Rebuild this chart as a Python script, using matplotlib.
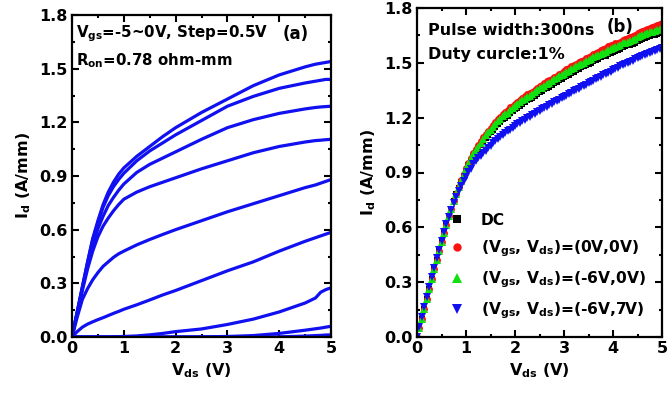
"""
Output characteristics (a) and pulsed I-V (b) of the HEMT.
"""

import matplotlib
matplotlib.use("Agg")
import matplotlib.pyplot as plt
import numpy as np
from matplotlib.ticker import MultipleLocator

plt.rcParams["font.family"] = ["DejaVu Sans"]
plt.rcParams["font.weight"] = "bold"
plt.rcParams["mathtext.fontset"] = "custom"
plt.rcParams["mathtext.rm"] = "DejaVu Sans:bold"
plt.rcParams["mathtext.it"] = "DejaVu Sans:bold"
plt.rcParams["mathtext.bf"] = "DejaVu Sans:bold"
plt.rcParams["mathtext.default"] = "rm"

FS = 11.5

# --- (a) DC output curves, Vgs = 0 ... -5 V, step 0.5 V ---
VDS_A = [0, 0.1, 0.2, 0.3, 0.4, 0.5, 0.6, 0.7, 0.8, 0.9, 1.0, 1.25, 1.5, 1.75,
         2.0, 2.5, 3.0, 3.5, 4.0, 4.5, 4.7, 4.8, 4.9, 5.0]
ID_VGS_0 = [0, 0.14, 0.28, 0.42, 0.55, 0.65, 0.74, 0.81, 0.865, 0.91, 0.945, 1.01, 1.065, 1.12,
            1.17, 1.255, 1.33, 1.405, 1.465, 1.51, 1.525, 1.53, 1.535, 1.54]
ID_VGS_05 = [0, 0.14, 0.28, 0.415, 0.545, 0.64, 0.725, 0.79, 0.84, 0.88, 0.915, 0.985, 1.04, 1.085,
             1.13, 1.21, 1.29, 1.345, 1.39, 1.42, 1.43, 1.435, 1.44, 1.44]
ID_VGS_1 = [0, 0.135, 0.27, 0.40, 0.515, 0.605, 0.675, 0.735, 0.78, 0.82, 0.855, 0.92, 0.965, 1.0,
            1.035, 1.105, 1.17, 1.215, 1.25, 1.275, 1.283, 1.286, 1.288, 1.29]
ID_VGS_15 = [0, 0.13, 0.26, 0.38, 0.48, 0.56, 0.62, 0.665, 0.705, 0.74, 0.77, 0.81, 0.84, 0.865,
             0.89, 0.94, 0.985, 1.03, 1.065, 1.09, 1.098, 1.10, 1.103, 1.105]
ID_VGS_2 = [0, 0.11, 0.21, 0.27, 0.32, 0.36, 0.395, 0.42, 0.445, 0.465, 0.48, 0.515, 0.545, 0.573,
            0.60, 0.65, 0.70, 0.745, 0.79, 0.835, 0.85, 0.86, 0.87, 0.88]
ID_VGS_25 = [0, 0.03, 0.055, 0.072, 0.085, 0.097, 0.108, 0.12, 0.132, 0.143, 0.155, 0.18, 0.207, 0.235,
             0.26, 0.315, 0.37, 0.42, 0.48, 0.535, 0.555, 0.565, 0.575, 0.585]
ID_VGS_3 = [0, 0, 0, 0, 0, 0, 0, 0, 0.001, 0.002, 0.003, 0.006, 0.012, 0.02,
            0.03, 0.045, 0.07, 0.10, 0.14, 0.19, 0.218, 0.25, 0.265, 0.275]
ID_VGS_35 = [0, 0, 0, 0, 0, 0, 0, 0, 0, 0, 0, 0, 0, 0,
             0, 0.001, 0.003, 0.008, 0.02, 0.038, 0.046, 0.05, 0.055, 0.06]
ID_VGS_4 = [0, 0, 0, 0, 0, 0, 0, 0, 0, 0, 0, 0, 0, 0,
            0, 0, 0, 0, 0.001, 0.005, 0.008, 0.009, 0.011, 0.012]
ID_VGS_45 = [0] * 24
ID_VGS_5 = [0] * 24
CURVES_A = [ID_VGS_0, ID_VGS_05, ID_VGS_1, ID_VGS_15, ID_VGS_2, ID_VGS_25,
            ID_VGS_3, ID_VGS_35, ID_VGS_4, ID_VGS_45, ID_VGS_5]

# --- (b) pulsed I-V at Vgs = 0 V, swept in 0.05 V steps ---
VDS_B = np.round(np.arange(0, 5.001, 0.05), 2)
ID_DC = [0.000, 0.050, 0.100, 0.155, 0.210, 0.265, 0.320, 0.370, 0.420, 0.470,
         0.520, 0.570, 0.615, 0.660, 0.700, 0.745, 0.780, 0.815, 0.850, 0.880,
         0.910, 0.940, 0.965, 0.990, 1.010, 1.030, 1.050, 1.070, 1.090, 1.105,
         1.120, 1.135, 1.150, 1.165, 1.175, 1.190, 1.200, 1.210, 1.225, 1.235,
         1.245, 1.255, 1.265, 1.275, 1.285, 1.295, 1.300, 1.310, 1.320, 1.330,
         1.340, 1.345, 1.355, 1.365, 1.370, 1.380, 1.390, 1.395, 1.405, 1.410,
         1.420, 1.430, 1.435, 1.445, 1.450, 1.460, 1.465, 1.475, 1.480, 1.490,
         1.495, 1.500, 1.510, 1.515, 1.520, 1.530, 1.535, 1.540, 1.550, 1.555,
         1.560, 1.565, 1.570, 1.575, 1.585, 1.590, 1.595, 1.600, 1.605, 1.610,
         1.620, 1.625, 1.630, 1.635, 1.640, 1.645, 1.650, 1.655, 1.660, 1.665,
         1.670]
ID_P00 = [0.000, 0.050, 0.100, 0.155, 0.210, 0.265, 0.320, 0.370, 0.420, 0.470,
          0.520, 0.570, 0.615, 0.660, 0.700, 0.745, 0.780, 0.820, 0.858, 0.890,
          0.922, 0.953, 0.980, 1.006, 1.028, 1.050, 1.071, 1.092, 1.113, 1.129,
          1.145, 1.161, 1.177, 1.193, 1.204, 1.220, 1.230, 1.241, 1.256, 1.266,
          1.276, 1.286, 1.297, 1.307, 1.317, 1.327, 1.333, 1.343, 1.353, 1.363,
          1.373, 1.379, 1.389, 1.399, 1.404, 1.414, 1.424, 1.430, 1.440, 1.445,
          1.455, 1.465, 1.471, 1.481, 1.486, 1.496, 1.502, 1.512, 1.517, 1.527,
          1.533, 1.538, 1.548, 1.554, 1.559, 1.569, 1.574, 1.580, 1.590, 1.595,
          1.600, 1.606, 1.611, 1.616, 1.627, 1.632, 1.637, 1.643, 1.648, 1.653,
          1.664, 1.669, 1.674, 1.680, 1.685, 1.690, 1.695, 1.701, 1.706, 1.711,
          1.716]
ID_P60 = [0.000, 0.050, 0.100, 0.155, 0.210, 0.265, 0.320, 0.370, 0.420, 0.470,
          0.520, 0.570, 0.615, 0.660, 0.700, 0.745, 0.780, 0.818, 0.855, 0.886,
          0.917, 0.948, 0.974, 0.999, 1.021, 1.042, 1.062, 1.083, 1.103, 1.119,
          1.135, 1.150, 1.166, 1.181, 1.192, 1.207, 1.218, 1.228, 1.243, 1.253,
          1.264, 1.274, 1.284, 1.294, 1.304, 1.314, 1.320, 1.330, 1.340, 1.350,
          1.360, 1.365, 1.375, 1.385, 1.390, 1.400, 1.410, 1.416, 1.426, 1.431,
          1.441, 1.451, 1.456, 1.466, 1.471, 1.481, 1.486, 1.496, 1.501, 1.511,
          1.516, 1.521, 1.531, 1.536, 1.541, 1.551, 1.556, 1.561, 1.571, 1.576,
          1.581, 1.586, 1.591, 1.596, 1.606, 1.611, 1.616, 1.621, 1.626, 1.631,
          1.641, 1.646, 1.651, 1.656, 1.661, 1.666, 1.671, 1.676, 1.681, 1.686,
          1.691]
ID_P67 = [0.000, 0.055, 0.110, 0.165, 0.220, 0.275, 0.330, 0.380, 0.430, 0.478,
          0.526, 0.573, 0.617, 0.658, 0.697, 0.735, 0.768, 0.798, 0.828, 0.853,
          0.878, 0.900, 0.920, 0.945, 0.965, 0.980, 0.993, 1.005, 1.020, 1.033,
          1.046, 1.059, 1.071, 1.083, 1.094, 1.105, 1.115, 1.125, 1.135, 1.145,
          1.154, 1.163, 1.172, 1.180, 1.189, 1.197, 1.205, 1.213, 1.221, 1.229,
          1.237, 1.245, 1.253, 1.261, 1.268, 1.276, 1.284, 1.291, 1.299, 1.306,
          1.314, 1.321, 1.329, 1.336, 1.344, 1.351, 1.359, 1.366, 1.374, 1.381,
          1.389, 1.396, 1.403, 1.410, 1.417, 1.424, 1.431, 1.438, 1.445, 1.452,
          1.459, 1.466, 1.473, 1.480, 1.486, 1.493, 1.499, 1.506, 1.512, 1.519,
          1.525, 1.531, 1.537, 1.543, 1.549, 1.555, 1.560, 1.565, 1.570, 1.575,
          1.580]

LABELS_B = ["DC",
            r"(V$_{gs}$, V$_{ds}$)=(0V,0V)",
            r"(V$_{gs}$, V$_{ds}$)=(-6V,0V)",
            r"(V$_{gs}$, V$_{ds}$)=(-6V,7V)"]

W, H = 668, 400
fig = plt.figure(figsize=(W / 100, H / 100), dpi=100)
ax_a = fig.add_axes([72 / W, 1 - 337 / H, (331 - 72) / W, (337 - 15) / H])
ax_b = fig.add_axes([417 / W, 1 - 337 / H, (662 - 417) / W, (337 - 8) / H])


def style_axes(ax):
    ax.set_xlim(0, 5)
    ax.set_ylim(0, 1.8)
    ax.xaxis.set_major_locator(MultipleLocator(1))
    ax.xaxis.set_minor_locator(MultipleLocator(0.5))
    ax.yaxis.set_major_locator(MultipleLocator(0.3))
    ax.yaxis.set_minor_locator(MultipleLocator(0.15))
    ax.tick_params(which="both", direction="in", top=True, right=True, width=1.5)
    ax.tick_params(which="major", length=5, labelsize=FS, pad=3)
    ax.tick_params(which="minor", length=2.5)
    ax.yaxis.set_major_formatter(plt.FuncFormatter(lambda v, p: f"{v:.1f}"))
    for s in ax.spines.values():
        s.set_linewidth(1.6)
    ax.set_xlabel(r"V$_{ds}$ (V)", fontsize=FS, fontweight="bold", labelpad=4)
    ax.set_ylabel(r"I$_{d}$ (A/mm)", fontsize=FS, fontweight="bold", labelpad=5)


# (a)
for ids in CURVES_A:
    ax_a.plot(VDS_A, ids, color="#1010f0", lw=2.3, solid_capstyle="round")
style_axes(ax_a)
ax_a.text(0.015, 0.942, r"V$_{gs}$=-5~0V, Step=0.5V", transform=ax_a.transAxes,
          fontsize=10.8, fontweight="bold", va="center", ha="left")
ax_a.text(0.815, 0.942, "(a)", transform=ax_a.transAxes,
          fontsize=FS + 0.5, fontweight="bold", va="center", ha="left")
ax_a.text(0.015, 0.857, r"R$_{on}$=0.78 ohm-mm", transform=ax_a.transAxes,
          fontsize=10.8, fontweight="bold", va="center", ha="left")

# (b)
ax_b.plot(VDS_B, ID_DC, ls="none", marker="s", ms=4.5, color="black", mew=0, label=LABELS_B[0])
ax_b.plot(VDS_B, ID_P00, ls="none", marker="o", ms=5, color="#ff1010", mew=0, label=LABELS_B[1])
ax_b.plot(VDS_B, ID_P60, ls="none", marker="^", ms=5.5, color="#10e010", mew=0, label=LABELS_B[2])
ax_b.plot(VDS_B, ID_P67, ls="none", marker="v", ms=5.5, color="#1010f0", mew=0, label=LABELS_B[3])
style_axes(ax_b)
ax_b.text(0.045, 0.933, "Pulse width:300ns", transform=ax_b.transAxes,
          fontsize=FS, fontweight="bold", va="center", ha="left")
ax_b.text(0.045, 0.86, "Duty curcle:1%", transform=ax_b.transAxes,
          fontsize=FS, fontweight="bold", va="center", ha="left")
ax_b.text(0.772, 0.942, "(b)", transform=ax_b.transAxes,
          fontsize=FS + 0.5, fontweight="bold", va="center", ha="left")
leg = ax_b.legend(loc="upper left", bbox_to_anchor=(0.13, 0.378), frameon=False,
                  numpoints=1, handlelength=1.0, handletextpad=1.05, borderpad=0,
                  borderaxespad=0, labelspacing=0.68, markerscale=1.2,
                  prop={"size": 11.2, "weight": "bold"})

fig.savefig("out.png", dpi=100)
